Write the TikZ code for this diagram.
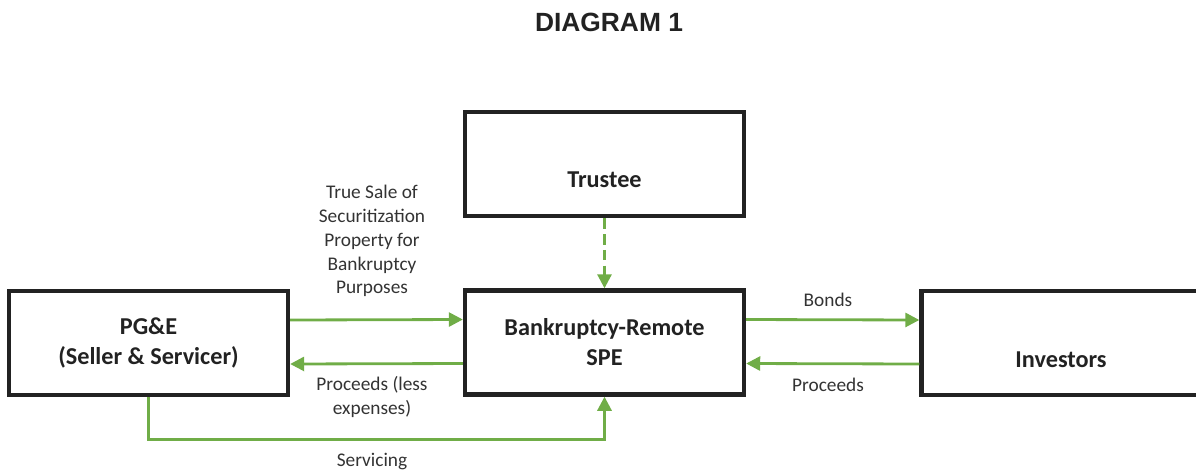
\documentclass[tikz,border=0pt]{standalone}
\usepackage{fontspec}
\setmainfont{Carlito}
\newfontfamily\titlefont{Liberation Sans}
\usetikzlibrary{arrows.meta,calc}
\definecolor{flowgreen}{HTML}{70AD47}
\definecolor{boxline}{HTML}{222222}
\tikzset{
  entity/.style={draw=boxline,line width=2.5pt,rectangle,minimum width=5.58cm,minimum height=2.08cm,
    align=center,font=\fontsize{13.8}{17}\selectfont\bfseries,text=boxline},
  entitytext/.style={font=\fontsize{13.8}{17}\selectfont\bfseries,text=boxline},
  flow/.style={draw=flowgreen,line width=1.6pt,-{Triangle[length=8pt,width=8pt]}},
  flowtext/.style={align=center,font=\fontsize{11}{13.6}\selectfont,text=black!80}
}
\begin{document}
\begin{tikzpicture}[x=0.02cm,y=-0.02cm]
  \useasboundingbox (0,0) rectangle (1196,474);
  %TITLE
  \node[font=\titlefont\bfseries\fontsize{15}{17}\selectfont,text=boxline] (title) at (609,22) {DIAGRAM 1};
  %BOXES
  \node[entity] (pge) at (148.5,343) {PG\&E\\(Seller \& Servicer)};
  \node[entity] (spe) at (604.5,342.5) {Bankruptcy-Remote\\SPE};
  \node[entity] (trustee) at (604.5,164) {};
  \node[entitytext] (trusteetext) at ($(trustee.center)+(0,16)$) {Trustee};
  \node[entity] (inv) at (1061,343) {};
  \node[entitytext] (invtext) at ($(inv.center)+(0,17)$) {Investors};
  %FLOWS
  \draw[flow] ($(pge.east)+(0,-23)$) -- ($(spe.west)+(0,-23)$);
  \draw[flow] ($(spe.west)+(0,21)$) -- ($(pge.east)+(0,21)$);
  \draw[flow] ($(spe.east)+(0,-23)$) -- ($(inv.west)+(0,-23)$);
  \draw[flow] ($(inv.west)+(0,21)$) -- ($(spe.east)+(0,21)$);
  \draw[flow,dash pattern=on 6pt off 3pt] (trustee.south) -- (spe.north);
  \draw[flow] (pge.south) -- ++(0,42) coordinate(corner) -| (spe.south);
  %LABELS
  \node[flowtext] (salelabel) at (372,241) {True Sale of\\Securitization\\Property for\\Bankruptcy\\Purposes};
  \node[flowtext] (backlabel) at (372,397) {Proceeds (less\\expenses)};
  \node[flowtext] (bondslabel) at (828,300) {Bonds};
  \node[flowtext] (paidlabel) at (828,385) {Proceeds};
  \node[flowtext] (servlabel) at (372,462) {Servicing};
\end{tikzpicture}
\end{document}
